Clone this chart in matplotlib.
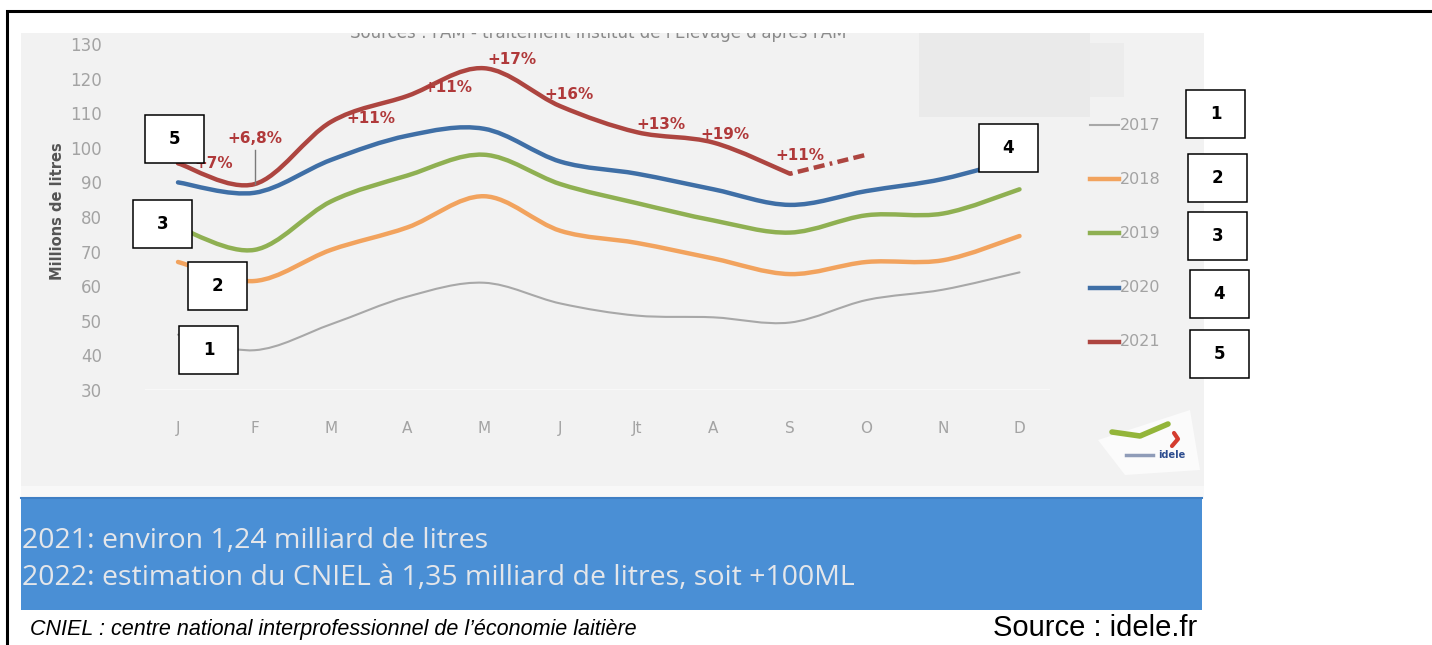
import matplotlib
matplotlib.use('Agg')
import matplotlib.pyplot as plt
from matplotlib.path import Path
from matplotlib.patches import PathPatch, Rectangle, Polygon
from matplotlib.lines import Line2D

W, H = 1432, 645

# ---- data ----
months = ['J', 'F', 'M', 'A', 'M', 'J', 'Jt', 'A', 'S', 'O', 'N', 'D']
years = ['2017', '2018', '2019', '2020', '2021']
v2017 = [46, 41.5, 49, 57, 61, 55, 51.5, 51, 49.5, 56, 59, 64]
v2018 = [67, 61.5, 70.5, 77, 86, 76, 72.5, 68, 63.5, 67, 67.5, 74.5]
v2019 = [77, 70.5, 84.5, 92, 98, 89.5, 84, 79, 75.5, 80.5, 81, 88]
v2020 = [90, 87, 96.5, 103.5, 105.5, 96, 92.5, 88, 83.5, 87.5, 91, 97]
v2021 = [95.5, 89.5, 107.5, 115, 123, 112, 104.5, 101.5, 92.5]
v2021_est = [92.5, 98]          # S -> O (dashed)
pct_labels = ['+7%', '+6,8%', '+11%', '+11%', '+17%', '+16%', '+13%', '+19%', '+11%']
yticks = [30, 40, 50, 60, 70, 80, 90, 100, 110, 120, 130]

colors = ['#a8a8a8', '#f2a35e', '#8fb052', '#3f6fa6', '#ad4540']
widths = [1.5, 3.2, 3.2, 3.2, 3.2]
red_txt = '#b0393a'


def fx(x):
    return x / W


def fy(y):
    return 1 - y / H


def smooth_path(xs, ys):
    # catmull-rom -> cubic bezier
    pts = list(zip(xs, ys))
    verts = [pts[0]]
    codes = [Path.MOVETO]
    n = len(pts)
    for i in range(n - 1):
        p0 = pts[i - 1] if i > 0 else pts[i]
        p1 = pts[i]
        p2 = pts[i + 1]
        p3 = pts[i + 2] if i + 2 < n else pts[i + 1]
        c1 = (p1[0] + (p2[0] - p0[0]) / 6, p1[1] + (p2[1] - p0[1]) / 6)
        c2 = (p2[0] - (p3[0] - p1[0]) / 6, p2[1] - (p3[1] - p1[1]) / 6)
        verts += [c1, c2, p2]
        codes += [Path.CURVE4] * 3
    return Path(verts, codes)


fig = plt.figure(figsize=(14.32, 6.45), dpi=100)

# screenshot background + blue box
fig.add_artist(Rectangle((fx(21), fy(486)), fx(1204 - 21), (486 - 32) / H, transform=fig.transFigure,
                         facecolor='#f2f2f2', edgecolor='none', zorder=-2))
fig.add_artist(Rectangle((fx(21), fy(497)), fx(1204 - 21), (497 - 486) / H, transform=fig.transFigure,
                         facecolor='#f8f8f8', edgecolor='none', zorder=-2))
fig.add_artist(Rectangle((fx(21), fy(610)), fx(1202 - 21), (610 - 497) / H, transform=fig.transFigure,
                         facecolor='#4a8fd5', edgecolor='none', zorder=-2))
fig.add_artist(Line2D([fx(21), fx(1202)], [fy(498), fy(498)], transform=fig.transFigure,
                      color='#3f7fc4', lw=1.5, zorder=-1))
# grey patches hiding the original legend header
fig.add_artist(Rectangle((fx(919), fy(117)), fx(171), 84 / H, transform=fig.transFigure,
                         facecolor='#eaeaea', edgecolor='none', zorder=-1))
fig.add_artist(Rectangle((fx(1090), fy(97)), fx(34), 54 / H, transform=fig.transFigure,
                         facecolor='#ececec', edgecolor='none', zorder=-1))

# cropped title of the original screenshot (upper part cut off)
fig.text(fx(350), fy(38), "Sources : FAM - traitement Institut de l'Élevage d'après FAM",
         fontsize=12, color='#8a8a8a', va='baseline', ha='left', zorder=3)
fig.add_artist(Rectangle((fx(8), fy(33)), fx(1424), 21 / H, transform=fig.transFigure,
                         facecolor='white', edgecolor='none', zorder=4))

# outer frame
fig.add_artist(Line2D([fx(7), fx(7), fx(1432)], [fy(645), fy(11), fy(11)], transform=fig.transFigure,
                      color='black', lw=2.2, solid_joinstyle='miter', zorder=5))

# ---- chart ----
ax = fig.add_axes([fx(145), fy(390), fx(1050 - 145), (390 - 44) / H])
ax.set_facecolor('none')
ax.set_xlim((145 - 178) / 76.5, (1050 - 178) / 76.5)
ax.set_ylim(30, 130)
for s in ax.spines.values():
    s.set_visible(False)
ax.set_xticks(range(len(months)))
ax.set_xticklabels(months)
ax.set_yticks(yticks)
ax.set_yticklabels([str(v) for v in yticks])
ax.tick_params(axis='x', length=0, pad=22, labelsize=11, labelcolor='#a3a3a3')
ax.tick_params(axis='y', length=0, pad=31, labelsize=12, labelcolor='#a3a3a3')
ax.axhline(30, color='#fafafa', lw=1.2, zorder=0)

series = [v2017, v2018, v2019, v2020, v2021]
for i, vals in enumerate(series):
    xs = list(range(len(vals)))
    ax.add_patch(PathPatch(smooth_path(xs, vals), fill=False, edgecolor=colors[i],
                           lw=widths[i], capstyle='round', joinstyle='round', zorder=2 + i))
ax.plot([8, 9], v2021_est, color=colors[4], lw=3.2, ls=(0, (0.6, 1.2, 2.5, 1.2, 2.5, 1.2)),
        zorder=7)

# percentage labels on the 2021 curve
pct_x = [0.47, 1.0, 2.52, 3.53, 4.37, 5.11, 6.31, 7.15, 8.13]
pct_y = [95.6, 102.8, 108.6, 117.3, 125.4, 115.3, 106.6, 103.7, 97.9]
for lab, x, y in zip(pct_labels, pct_x, pct_y):
    ax.text(x, y, lab, color=red_txt, fontsize=11, fontweight='bold', ha='center', va='center',
            zorder=8)
ax.plot([1, 1], [v2021[1], 99.4], color='#7a7a7a', lw=1, zorder=8)

fig.text(fx(58), fy(211), 'Millions de litres', rotation=90, fontsize=10.5, fontweight='bold',
         color='#555555', ha='center', va='center')

# legend of the original chart
leg_y = [125, 179, 233, 288, 342]
for i, yr in enumerate(years):
    fig.add_artist(Line2D([fx(1090), fx(1119)], [fy(leg_y[i]), fy(leg_y[i])], transform=fig.transFigure,
                          color=colors[i], lw=widths[i]))
    fig.text(fx(1120), fy(leg_y[i]), yr, fontsize=11.5, color='#a3a3a3', ha='left', va='center')

# logo
fig.add_artist(Polygon([(fx(1098), fy(440)), (fx(1190), fy(410)), (fx(1200), fy(470)), (fx(1125), fy(475))],
                       closed=True, transform=fig.transFigure, facecolor='#fbfbfb', edgecolor='none'))
fig.add_artist(Line2D([fx(1112), fx(1140), fx(1168)], [fy(432), fy(436), fy(424)], transform=fig.transFigure,
                      color='#93b53a', lw=4, solid_capstyle='round'))
fig.add_artist(Line2D([fx(1174), fx(1178), fx(1172)], [fy(433), fy(439), fy(446)], transform=fig.transFigure,
                      color='#d43c2f', lw=3, solid_capstyle='round'))
fig.text(fx(1172), fy(455), 'idele', fontsize=7, fontweight='bold', color='#2d4d8f', ha='center', va='center')
fig.add_artist(Line2D([fx(1126), fx(1153)], [fy(455), fy(455)], transform=fig.transFigure,
                      color='#8f9cb8', lw=2.5))

# numbered boxes
boxes = [(145, 115, '5'), (133, 200, '3'), (188, 262, '2'), (179, 326, '1'), (979, 124, '4'),
         (1186, 90, '1'), (1188, 154, '2'), (1188, 212, '3'), (1190, 270, '4'), (1190, 330, '5')]
for bx, by, lab in boxes:
    fig.add_artist(Rectangle((fx(bx), fy(by + 48)), fx(59), 48 / H, transform=fig.transFigure,
                             facecolor='white', edgecolor='black', lw=1.1, zorder=10))
    fig.text(fx(bx + 29.5), fy(by + 24), lab, fontsize=12, fontweight='bold', color='black',
             ha='center', va='center', zorder=11)

# blue box text
fig.text(fx(22), fy(541), '2021: environ 1,24 milliard de litres', fontsize=20.5,
         family='Open Sans', color='#e4e6ea', ha='left', va='center')
fig.text(fx(22), fy(578), '2022: estimation du CNIEL à 1,35 milliard de litres, soit +100ML', fontsize=20.5,
         family='Open Sans', color='#e4e6ea', ha='left', va='center')

# footer
fig.text(fx(30), fy(630), "CNIEL : centre national interprofessionnel de l’économie laitière",
         fontsize=15.5, family='Liberation Sans', style='italic', color='black', ha='left', va='center')
fig.text(fx(1197), fy(628), 'Source : idele.fr', fontsize=21, family='Liberation Sans',
         color='black', ha='right', va='center')

fig.savefig('out.png', dpi=100, facecolor='white')
